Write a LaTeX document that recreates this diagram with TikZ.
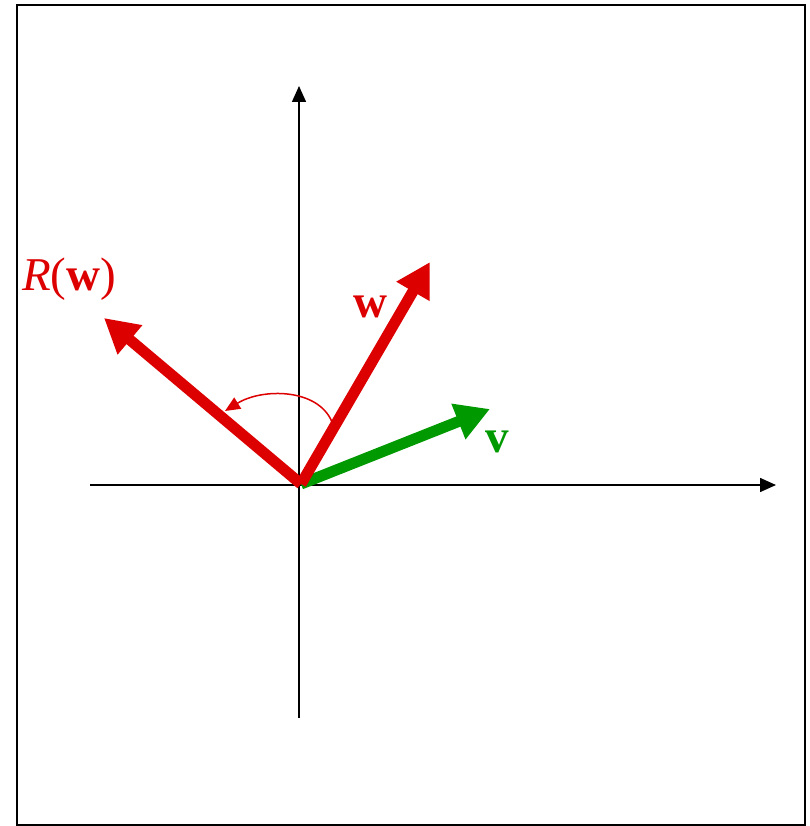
\documentclass[tikz,border=0pt]{standalone}
\usepackage{fontspec}
\setmainfont{Liberation Serif}
\usetikzlibrary{arrows.meta}
\definecolor{vred}{RGB}{221,0,0}
\definecolor{vgreen}{RGB}{0,153,0}
\begin{document}
\begin{tikzpicture}[x=1pt,y=-1pt,
  axis/.style={line width=1.5pt,-{Triangle[length=16pt,width=14pt]}},
  vec/.style={line width=11pt,-{Triangle[length=34pt,width=36pt]}},
  lbl/.style={font=\fontsize{47}{50}\selectfont,inner sep=0pt}]
\useasboundingbox (0,0) rectangle (809,826);
\draw[line width=2pt] (17,5) rectangle (805,825);
% axes
\coordinate (xl) at (90,485);
\coordinate (xr) at (776,485);
\coordinate (yb) at (299,718);
\coordinate (yt) at (299,86);
\draw[axis] (xl) -- (xr);
\draw[axis] (yb) -- (yt);
% vectors
\coordinate (O) at (301,484);
\coordinate (vt) at (490,409);
\coordinate (wt) at (430,262);
\coordinate (rt) at (104,318);
\draw[vec,vgreen] (O) -- (vt);
\draw[vec,vred] (O) -- (rt);
\draw[vec,vred] (O) -- (wt);
% rotation arc
\coordinate (as) at (332,422);
\coordinate (ae) at (225,411);
\draw[vred,line width=1.5pt,-{Triangle[length=15pt,width=13pt]}] (as) .. controls (318,388) and (262,388) .. (ae);
% labels
\node[lbl,text=vred] (lr) at (69,279) {\textit{R}(\textbf{w})};
\node[lbl,text=vred] (lw) at (370,307) {\textbf{w}};
\node[lbl,text=vgreen] (lv) at (497,442) {\textbf{v}};
\end{tikzpicture}
\end{document}
